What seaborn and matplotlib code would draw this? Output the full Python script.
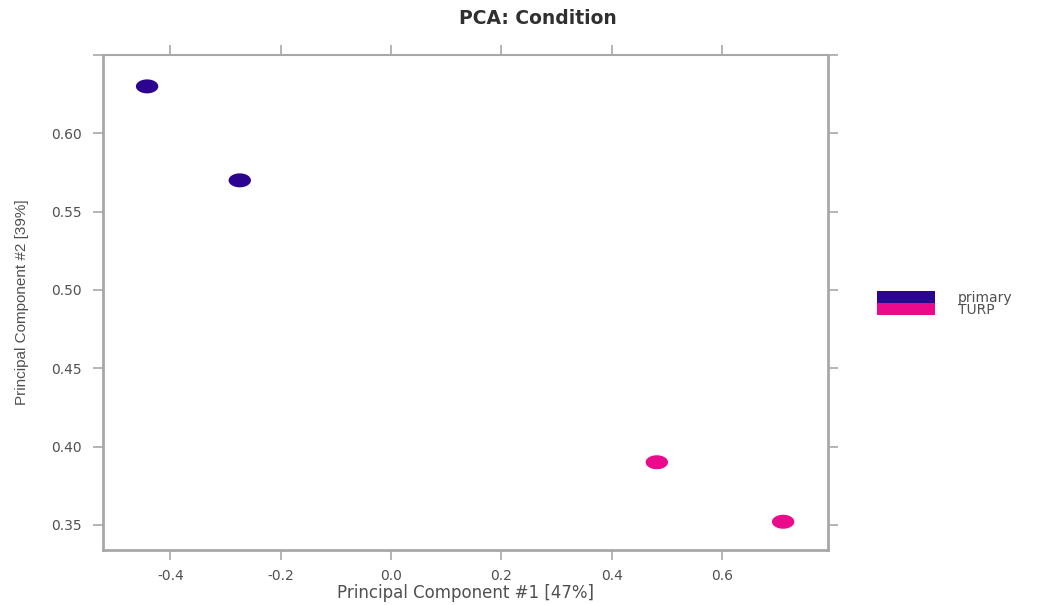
import matplotlib
import matplotlib.pyplot as plt
import numpy as np
import pandas as pd
import seaborn as sns
from matplotlib.patches import Patch
from matplotlib.path import Path

matplotlib.use("Agg")

# PCA scores
samples = ["S1", "S2", "S3", "S4"]
condition = ["primary", "primary", "TURP", "TURP"]
pc1 = [-0.442, -0.274, 0.482, 0.711]
pc2 = [0.630, 0.570, 0.390, 0.352]

groups = ["primary", "TURP"]
colors = ["#2D0490", "#EC0A8C"]
x_ticks = [-0.4, -0.2, 0.0, 0.2, 0.4, 0.6]
y_ticks = [0.35, 0.40, 0.45, 0.50, 0.55, 0.60, 0.65]

df = pd.DataFrame({"sample": samples, "Condition": condition, "PC1": pc1, "PC2": pc2})

sns.set_theme(style="white")
plt.rcParams["font.family"] = ["DejaVu Sans"]

grey = "#a8a8a8"
txt = "#505050"

fig = plt.figure(figsize=(10.4, 6.05), dpi=100)
ax = fig.add_axes([0.099, 0.091, 0.697, 0.818])

# ellipse-shaped marker (wider than tall)
t = np.linspace(0, 2 * np.pi, 60)
ellipse = Path(np.column_stack([1.6 * np.cos(t), np.sin(t)]), closed=True)

sns.scatterplot(
    data=df, x="PC1", y="PC2", hue="Condition", hue_order=groups,
    palette=dict(zip(groups, colors)), marker=ellipse, s=260,
    edgecolor="none", legend=False, ax=ax,
)

ax.set_xlim(-0.522, 0.792)
ax.set_ylim(0.334, 0.650)
ax.set_xticks(x_ticks)
ax.set_xticklabels([f"{v:.1f}" for v in x_ticks])
ax.set_yticks(y_ticks)
ax.set_yticklabels([f"{v:.2f}" if v < 0.64 else "" for v in y_ticks])

for side in ["left", "bottom", "top", "right"]:
    ax.spines[side].set_visible(True)
    ax.spines[side].set_color(grey)
    ax.spines[side].set_linewidth(2.0)
ax.spines["top"].set_linewidth(1.5)

ax.tick_params(axis="both", which="both", direction="out", length=7, width=1.2,
               color=grey, labelcolor=txt, labelsize=10, pad=8,
               top=True, right=True, bottom=True, left=True)
ax.tick_params(axis="x", pad=7)

ax.set_xlabel("Principal Component #1 [47%]", fontsize=12, color=txt)
ax.xaxis.set_label_coords(0.5, -0.068)
ax.set_ylabel("Principal Component #2 [39%]", fontsize=11, color=txt, labelpad=16,
              family=["Liberation Sans", "DejaVu Sans"])

fig.text(538 / 1040, 1 - 18 / 605, "PCA: Condition", ha="center", va="center",
         fontsize=13.5, fontweight="bold", color="#303030")

handles = [Patch(facecolor=c, edgecolor="none") for c in colors]
fig.legend(handles, groups, loc="upper left", bbox_to_anchor=(870 / 1040, 1 - 284 / 605),
           frameon=False, borderpad=0, labelspacing=-0.15, handlelength=4.2,
           handleheight=1.0, handletextpad=1.6, fontsize=10, labelcolor=txt)

fig.savefig("out.png", dpi=100)
plt.close(fig)
